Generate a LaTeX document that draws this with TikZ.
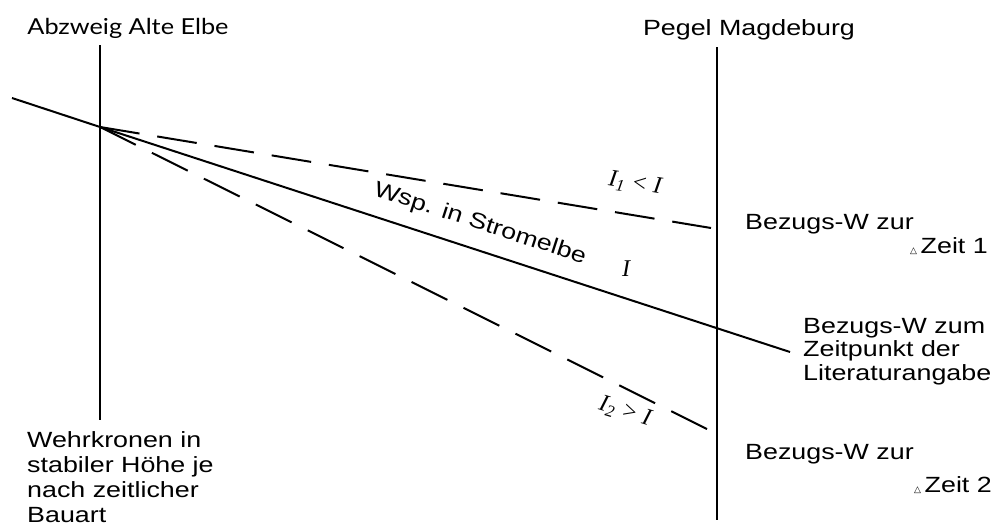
\documentclass[tikz,border=0pt]{standalone}
\usepackage{fontspec}
\setmainfont{Liberation Sans}[FakeStretch=1.22]
\newfontfamily\humfont{Lato}[FakeStretch=1.15]
\newfontfamily\dejafont{DejaVu Sans}
\newfontfamily\itserif{Liberation Serif Italic}
\newcommand{\smalltri}{{\dejafont\fontsize{9}{9}\selectfont △}}
\begin{document}
\begin{tikzpicture}[x=1pt,y=-1pt,
  lbl/.style={inner sep=0pt,font=\fontsize{22}{24}\selectfont},
  hlbl/.style={inner sep=0pt,font=\humfont\fontsize{22}{24}\selectfont},
  mlbl/.style={inner sep=0pt,font=\itserif\fontsize{24}{24}\selectfont},
  axis/.style={line width=2pt},
  dashline/.style={line width=2pt,dash pattern=on 40pt off 18pt}]
\useasboundingbox[fill=white] (0,0) rectangle (997,525);
% verticals
\coordinate (Lt) at (100,45);
\coordinate (Lb) at (100,420);
\coordinate (Rt) at (717,47);
\coordinate (Rb) at (717,520);
\draw[axis] (Lt) -- (Lb);
\draw[axis] (Rt) -- (Rb);
% water surface lines
\coordinate (S) at (12,98);
\coordinate (X) at (100,127);
\coordinate (E) at (790,352);
\coordinate (U) at (711,228);
\coordinate (D) at (713,432);
\draw[axis] (S) -- (X) -- (E);
\draw[dashline] (X) -- (U);
\draw[dashline] (X) -- (D);
% labels
\node[hlbl,anchor=base] (abz) at (128,34) {Abzweig Alte Elbe};
\node[lbl,anchor=base] (peg) at (749,35) {Pegel Magdeburg};
\node[lbl,anchor=base west] (bz1) at (745,229) {Bezugs-W zur};
\node[lbl,anchor=base east] (z1) at (988,253) {\smalltri\,Zeit 1};
\node[lbl,anchor=base west,align=left,font=\fontsize{22}{23.5}\selectfont] (bzm) at (803,380) {Bezugs-W zum\\Zeitpunkt der\\Literaturangabe};
\node[lbl,anchor=base west] (bz2) at (745,459) {Bezugs-W zur};
\node[lbl,anchor=base east] (z2) at (992,492) {\smalltri\,Zeit 2};
\node[lbl,anchor=base west,align=left,font=\fontsize{22}{25}\selectfont] (wehr) at (27,522) {Wehrkronen in\\stabiler Höhe je\\nach zeitlicher\\Bauart};
\node[lbl,rotate=-18] (wsp) at (480,224) {Wsp. in Stromelbe};
\node[mlbl,rotate=-9] (i1) at (635,184) {I\textsubscript{1} < I};
\node[mlbl] (i0) at (626,269) {I};
\node[mlbl,rotate=-17] (i2) at (625,412) {I\textsubscript{2} > I};
\end{tikzpicture}
\end{document}
